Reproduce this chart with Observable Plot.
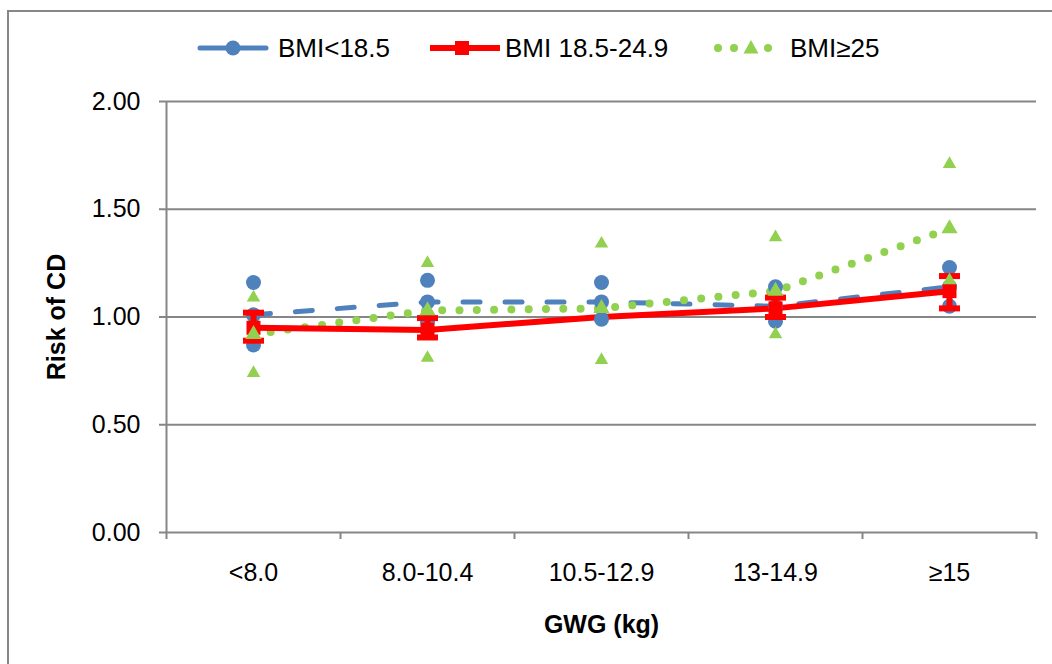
<!DOCTYPE html>
<html>
<head>
<meta charset="utf-8">
<script src="https://cdn.jsdelivr.net/npm/d3@7"></script>
<script src="https://cdn.jsdelivr.net/npm/@observablehq/plot@0.6"></script>
<style>
  html, body { margin: 0; padding: 0; background: #fff; overflow: hidden; width: 1052px; height: 664px; }
  body { position: relative; font-family: "Liberation Sans", Arial, sans-serif; }
  #frame { position: absolute; left: 7px; top: 10px; width: 1100px; height: 700px; border: 2px solid #878787; box-sizing: border-box; }
  #chart { position: absolute; left: 0; top: 70px; }
  .leg { position: absolute; top: 36px; height: 24px; }
  .legtxt { position: absolute; top: 48px; transform: translateY(-50%); font-size: 26px; color: #000; white-space: nowrap; line-height: 1; }
</style>
</head>
<body>
<div id="frame"></div>
<div id="legend"></div>
<div id="chart"></div>
<script>
// ---- data ----
const categories = ["<8.0", "8.0-10.4", "10.5-12.9", "13-14.9", "≥15"];
const seriesNames = ["BMI<18.5", "BMI 18.5-24.9", "BMI≥25"];
const seriesColors = ["#4F81BD", "#FF0000", "#92D050"];

const blueMid  = [1.01, 1.07, 1.07, 1.05, 1.14];
const blueLow  = [0.87, 0.98, 0.99, 0.98, 1.05];
const blueHigh = [1.16, 1.17, 1.16, 1.14, 1.23];

const redMid   = [0.95, 0.94, 1.00, 1.04, 1.12];
const redLow   = [0.89, 0.905, null, 1.00, 1.04];
const redHigh  = [1.02, 0.995, null, 1.09, 1.19];

const greenMid  = [0.92, 1.03, 1.04, 1.12, 1.41];
const greenLow  = [0.74, 0.81, 0.80, 0.92, 1.17];
const greenHigh = [1.09, 1.25, 1.34, 1.37, 1.71];

const yTicks = [0, 0.5, 1, 1.5, 2];
const yTitle = "Risk of CD";
const xTitle = "GWG (kg)";

// ---- build tables ----
const rows = (mid, lo, hi) => categories.map((c, i) => ({cat: c, i, mid: mid[i], lo: lo[i], hi: hi[i]}));
const blueRows = rows(blueMid, blueLow, blueHigh);
const redRows = rows(redMid, redLow, redHigh);
const greenRows = rows(greenMid, greenLow, greenHigh);
const redCI = redRows.filter(d => d.lo != null);

const X = d => d.i + 0.5;
const gray = "#868686";
const [blue, red, green] = seriesColors;

const capSymbol = { draw(ctx) { ctx.rect(-10.5, -3, 21, 6); } };

const plot = Plot.plot({
  width: 1052,
  height: 594,
  marginLeft: 166,
  marginRight: 16,
  marginTop: 31,
  marginBottom: 132,
  x: {domain: [0, categories.length], axis: null},
  y: {domain: [0, 2], axis: null},
  style: {fontFamily: "'Liberation Sans', Arial, sans-serif", fontSize: "25px", color: "#000", background: "transparent", overflow: "visible"},
  marks: [
    Plot.ruleY(yTicks.filter(v => v > 0), {stroke: gray, strokeWidth: 2}),
    Plot.ruleY([0], {stroke: gray, strokeWidth: 2}),
    Plot.ruleX([0], {y1: 0, y2: 2, stroke: gray, strokeWidth: 2}),
    Plot.axisY({ticks: yTicks, tickFormat: d3.format(".2f"), tickSize: 7, tickPadding: 19, stroke: gray, strokeWidth: 2, fill: "#000", label: null}),
    Plot.axisX({ticks: d3.range(0, categories.length + 1), tickSize: 7, tickFormat: () => "", stroke: gray, strokeWidth: 2, label: null}),
    Plot.text(categories, {x: (d, i) => i + 0.5, y: 0, dy: 40, text: d => d, lineAnchor: "middle", fill: "#000"}),
    Plot.text([yTitle], {frameAnchor: "left", text: d => d, rotate: -90, dx: -110, textAnchor: "middle", lineAnchor: "middle", fontWeight: "bold", fill: "#000"}),
    Plot.text([xTitle], {frameAnchor: "bottom", text: d => d, dy: 92, textAnchor: "middle", lineAnchor: "middle", fontWeight: "bold", fill: "#000"}),
    // lines
    Plot.line(blueRows, {x: X, y: "mid", stroke: blue, strokeWidth: 5, strokeDasharray: "17,25", strokeLinecap: "round"}),
    Plot.line(greenRows, {x: X, y: "mid", stroke: green, strokeWidth: 8, strokeDasharray: "0,17.3", strokeLinecap: "round"}),
    Plot.line(redRows, {x: X, y: "mid", stroke: red, strokeWidth: 6}),
    // blue markers
    Plot.dot(blueRows, {x: X, y: "hi", r: 7.5, fill: blue}),
    Plot.dot(blueRows, {x: X, y: "lo", r: 7.5, fill: blue}),
    Plot.dot(blueRows, {x: X, y: "mid", r: 7.5, fill: blue}),
    // red markers
    Plot.ruleX(redCI, {x: X, y1: "lo", y2: "hi", stroke: red, strokeWidth: 6}),
    Plot.dot(redCI, {x: X, y: "mid", r: 7.9, symbol: "square", fill: red}),
    Plot.dot(redCI, {x: X, y: "lo", symbol: capSymbol, fill: red}),
    Plot.dot(redCI, {x: X, y: "hi", symbol: capSymbol, fill: red}),
    // green markers
    Plot.dot(greenRows, {x: X, y: "hi", r: 5, symbol: "triangle", fill: green}),
    Plot.dot(greenRows, {x: X, y: "lo", r: 5, symbol: "triangle", fill: green}),
    Plot.dot(greenRows, {x: X, y: "mid", r: 6, symbol: "triangle", fill: green})
  ]
});
document.getElementById("chart").appendChild(plot);

// ---- legend (HTML above the SVG) ----
const legend = document.getElementById("legend");
const legendItems = [
  {name: seriesNames[0], left: 196, w: 74, text: 278,
   svg: `<line x1="4" y1="12" x2="70" y2="12" stroke="${blue}" stroke-width="5" stroke-linecap="round"/><circle cx="37" cy="12" r="7.5" fill="${blue}"/>`},
  {name: seriesNames[1], left: 428, w: 76, text: 505,
   svg: `<line x1="2" y1="12" x2="72" y2="12" stroke="${red}" stroke-width="6"/><rect x="27" y="5" width="14" height="14" fill="${red}"/>`},
  {name: seriesNames[2], left: 708, w: 70, text: 790,
   svg: `<circle cx="10" cy="12" r="4" fill="${green}"/><circle cx="26" cy="12" r="4" fill="${green}"/><path d="M43,4 L50.5,17.5 L35.5,17.5 Z" fill="${green}"/><circle cx="60" cy="12" r="4" fill="${green}"/>`}
];
for (const it of legendItems) {
  const s = document.createElementNS("http://www.w3.org/2000/svg", "svg");
  s.setAttribute("class", "leg");
  s.setAttribute("width", it.w);
  s.setAttribute("height", 24);
  s.style.left = it.left + "px";
  s.innerHTML = it.svg;
  legend.appendChild(s);
  const t = document.createElement("div");
  t.className = "legtxt";
  t.style.left = it.text + "px";
  t.textContent = it.name;
  legend.appendChild(t);
}
</script>
</body>
</html>
